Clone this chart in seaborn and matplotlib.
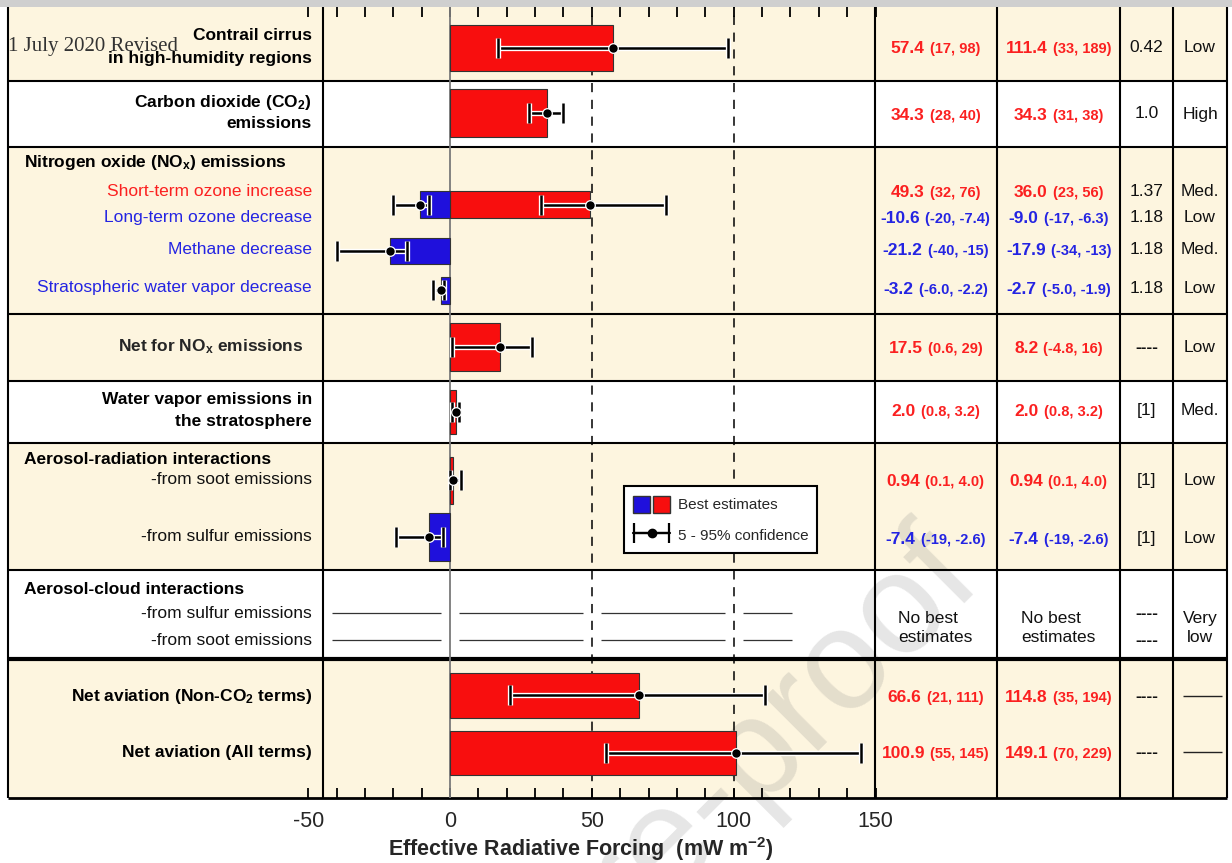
"""
Aviation effective radiative forcing terms - bar chart with side table
"""

import matplotlib
matplotlib.use("Agg")
import matplotlib.pyplot as plt
import matplotlib.patheffects as pe
from matplotlib.patches import Rectangle, Patch
from matplotlib.legend_handler import HandlerTuple, HandlerErrorbar
from matplotlib.ticker import MultipleLocator
import numpy as np
import seaborn as sns

# ---------------- data ----------------
terms = ["Contrail cirrus", "Carbon dioxide", "Short-term ozone increase",
         "Long-term ozone decrease", "Methane decrease",
         "Stratospheric water vapor decrease", "Net for NOx emissions",
         "Water vapor emissions", "Soot (aerosol-radiation)",
         "Sulfur (aerosol-radiation)", "Net aviation (Non-CO2)",
         "Net aviation (All terms)"]

erf_best = [57.4, 34.3, 49.3, -10.6, -21.2, -3.2, 17.5, 2.0, 0.94, -7.4, 66.6, 100.9]
erf_low = [17, 28, 32, -20, -40, -6.0, 0.6, 0.8, 0.1, -19, 21, 55]
erf_high = [98, 40, 76, -7.4, -15, -2.2, 29, 3.2, 4.0, -2.6, 111, 145]

erf_text = ["57.4", "34.3", "49.3", "-10.6", "-21.2", "-3.2", "17.5", "2.0",
            "0.94", "-7.4", "66.6", "100.9"]
erf_ci_text = ["(17, 98)", "(28, 40)", "(32, 76)", "(-20, -7.4)", "(-40, -15)",
               "(-6.0, -2.2)", "(0.6, 29)", "(0.8, 3.2)", "(0.1, 4.0)",
               "(-19, -2.6)", "(21, 111)", "(55, 145)"]
rf_text = ["111.4", "34.3", "36.0", "-9.0", "-17.9", "-2.7", "8.2", "2.0",
           "0.94", "-7.4", "114.8", "149.1"]
rf_ci_text = ["(33, 189)", "(31, 38)", "(23, 56)", "(-17, -6.3)", "(-34, -13)",
              "(-5.0, -1.9)", "(-4.8, 16)", "(0.8, 3.2)", "(0.1, 4.0)",
              "(-19, -2.6)", "(35, 194)", "(70, 229)"]
ratio_text = ["0.42", "1.0", "1.37", "1.18", "1.18", "1.18", "----", "[1]",
              "[1]", "[1]", "----", "----"]
conf_text = ["Low", "High", "Med.", "Low", "Med.", "Low", "Low", "Med.",
             "Low", "Low", "", ""]

# aerosol-cloud rows have no best estimate, only a range line
cloud_span = (-41.5, 120.5)

# ---------------- layout (pixels) ----------------
W, H = 1232, 863
bar_y = [48, 113, 205, 205, 251, 290, 347, 412, 480, 537, 695, 753]
bar_h = [46, 48, 27, 27, 26, 27, 48, 44, 47, 48, 45, 44]
text_y = [47, 114, 191, 217, 249, 288, 347, 410, 480, 538, 696, 752]

RED = "#f80e0e"
BLUE = "#1f10dc"
RED_TXT = "#fb2020"
BLUE_TXT = "#2424e2"
CREAM = "#fdf5df"

FRAME_L, FRAME_R, FRAME_T, FRAME_B = 8, 1227, 7, 798
COLS = [8, 323, 875, 997, 1120, 1173, 1227]


def setup_style():
    """Theme and fonts."""
    sns.set_theme(style="white")
    plt.rcParams["font.family"] = ["Liberation Sans", "DejaVu Sans"]
    plt.rcParams["mathtext.fontset"] = "custom"
    plt.rcParams["mathtext.rm"] = "Liberation Sans"
    plt.rcParams["mathtext.bf"] = "Liberation Sans:bold"
    plt.rcParams["mathtext.default"] = "regular"
    plt.rcParams["axes.unicode_minus"] = False


def pair_text(fig, bg, xc, y, main, sub, color):
    """Bold value followed by a smaller interval, centred on xc."""
    t1 = bg.text(0, y, main, fontsize=12.5, fontweight="bold", color=color,
                 ha="left", va="baseline", zorder=3)
    t2 = bg.text(0, y, sub, fontsize=10.5, fontweight="bold", color=color,
                 ha="left", va="baseline", zorder=3)
    r = fig.canvas.get_renderer()
    w1 = t1.get_window_extent(r).width
    w2 = t2.get_window_extent(r).width
    gap = 5
    x0 = xc - (w1 + gap + w2) / 2
    t1.set_x(x0)
    t2.set_x(x0 + w1 + gap)


def draw_table(fig, bg):
    """Row bands, grid lines, labels and the numeric columns."""
    bg.add_patch(Rectangle((0, 0), W, FRAME_T, facecolor="#cfcfcf", lw=0))
    bands = [(FRAME_T, 81, CREAM), (81, 147, "white"), (147, 314, CREAM),
             (314, 381, CREAM), (381, 443, "white"), (443, 570, CREAM),
             (570, 659, "white"), (659, FRAME_B, CREAM)]
    for y0, y1, c in bands:
        bg.add_patch(Rectangle((FRAME_L, y0), FRAME_R - FRAME_L, y1 - y0,
                               facecolor=c, lw=0, zorder=1))

    bg.hlines([81, 147, 314, 381, 443, 570], FRAME_L, FRAME_R, color="black", lw=1.5, zorder=2)
    bg.hlines(659, FRAME_L, FRAME_R, color="black", lw=3, zorder=2)
    bg.hlines(FRAME_B, FRAME_L, FRAME_R, color="black", lw=2, zorder=2)
    bg.vlines(COLS, FRAME_T, FRAME_B, color="black", lw=1.5, zorder=2)

    # watermark
    bg.text(985, 585, "Journal Pre-proof", rotation=45, rotation_mode="anchor",
            ha="right", va="baseline", fontsize=102, color="#808080", alpha=0.2,
            zorder=1.5)

    # row labels
    lab = dict(fontsize=12.5, va="center", zorder=3)
    bold_right = [("Contrail cirrus", 36), ("in high-humidity regions", 58),
                  ("Carbon dioxide (CO$_2$)", 102), ("emissions", 124),
                  ("Water vapor emissions in", 399), ("the stratosphere", 421),
                  ("Net aviation (Non-CO$_2$ terms)", 696),
                  ("Net aviation (All terms)", 752)]
    for s, y in bold_right:
        bg.text(312, y, s, ha="right", fontweight="bold", color="black", **lab)
    bg.text(303, 347, "Net for NO$_x$ emissions", ha="right", fontweight="bold", **lab)
    for s, y in [("Nitrogen oxide (NO$_x$) emissions", 163),
                 ("Aerosol-radiation interactions", 459),
                 ("Aerosol-cloud interactions", 589)]:
        bg.text(24, y, s, ha="left", fontweight="bold", color="black", **lab)
    bg.text(312, 191, "Short-term ozone increase", ha="right", color=RED_TXT, **lab)
    for s, y in [("Long-term ozone decrease", 217), ("Methane decrease", 249),
                 ("Stratospheric water vapor decrease", 287)]:
        bg.text(312, y, s, ha="right", color=BLUE_TXT, **lab)
    for s, y in [("-from soot emissions", 479), ("-from sulfur emissions", 536),
                 ("-from sulfur emissions", 613), ("-from soot emissions", 640)]:
        bg.text(312, y, s, ha="right", color="#111111", **lab)

    bg.text(8, 47, "1 July 2020 Revised", family="Liberation Serif", fontsize=15,
            color="#333333", ha="left", va="center", zorder=3)

    # numeric columns
    c1, c2, c3, c4 = 935.5, 1058.5, 1146.5, 1200
    for i in range(len(erf_text)):
        y = text_y[i] + 6
        col = BLUE_TXT if erf_text[i].startswith("-") else RED_TXT
        pair_text(fig, bg, c1, y, erf_text[i], erf_ci_text[i], col)
        col = BLUE_TXT if rf_text[i].startswith("-") else RED_TXT
        pair_text(fig, bg, c2, y, rf_text[i], rf_ci_text[i], col)
        wt = "bold" if ratio_text[i] == "----" else "normal"
        bg.text(c3, text_y[i], ratio_text[i], fontsize=12.5, fontweight=wt,
                ha="center", va="center", color="#111111", zorder=3)
        if conf_text[i]:
            bg.text(c4, text_y[i], conf_text[i], fontsize=12.5, ha="center",
                    va="center", color="#111111", zorder=3)
        else:
            bg.hlines(text_y[i], 1183, 1222, color="#222222", lw=1, zorder=3)

    # aerosol-cloud row
    for xc in (c1, c2):
        bg.text(xc, 628, "No best\nestimates", fontsize=12.5, ha="center",
                va="center", multialignment="left", linespacing=1.3,
                color="#111111", zorder=3)
    for y in (613, 640):
        bg.text(c3, y, "----", fontsize=12.5, fontweight="bold", ha="center",
                va="center", color="#111111", zorder=3)
    bg.text(c4, 628, "Very\nlow", fontsize=12.5, ha="center", va="center",
            linespacing=1.3, color="#111111", zorder=3)


def draw_bars(ax):
    """Bars, confidence ranges and the legend."""
    best = np.array(erf_best)
    lo = np.array(erf_low)
    hi = np.array(erf_high)

    ax.axvline(0, color="#7a7a7a", lw=1.3, zorder=1)
    for x in (50, 100):
        ax.axvline(x, color="black", lw=1.1, ls=(0, (6, 5)), zorder=1)

    colors = [RED if v > 0 else BLUE for v in best]
    ax.barh(bar_y, best, height=bar_h, color=colors, edgecolor="#333333",
            linewidth=0.8, zorder=2)

    halo = [pe.Stroke(linewidth=3.8, foreground="white"), pe.Normal()]
    eb = ax.errorbar(best, bar_y, xerr=[best - lo, hi - best], fmt="none",
                     ecolor="black", elinewidth=1.8, capsize=7.5, capthick=1.8,
                     zorder=3)
    for art in list(eb.lines[1]) + list(eb.lines[2]):
        art.set_path_effects(halo)

    sns.scatterplot(x=best, y=bar_y, ax=ax, color="black", s=48,
                    edgecolor="white", linewidth=0.9, zorder=4, legend=False)

    # aerosol-cloud interactions: range lines broken at the grid lines
    gap = 3.2
    starts = [cloud_span[0], 0 + gap, 50 + gap, 100 + gap]
    ends = [0 - gap, 50 - gap, 100 - gap, cloud_span[1]]
    for y in (613, 640):
        ax.hlines([y] * 4, starts, ends, color="#333333", lw=0.9, zorder=2)

    # legend
    eb_leg = ax.errorbar([np.nan], [np.nan], xerr=[[0], [0]], fmt="o-", color="black",
                         ms=6, lw=1.6, elinewidth=1.6, capsize=7, capthick=1.6)
    bars_leg = (Patch(facecolor=BLUE, edgecolor="#333333"),
                Patch(facecolor=RED, edgecolor="#333333"))
    leg = ax.legend([bars_leg, eb_leg], ["Best estimates", "5 - 95% confidence"],
                    handler_map={tuple: HandlerTuple(ndivide=None, pad=0.2),
                                 type(eb_leg): HandlerErrorbar(xerr_size=1.15,
                                                               marker_pad=0)},
                    loc="upper left", bbox_to_anchor=(0.557, 0.394),
                    borderaxespad=0, fontsize=11, frameon=True, fancybox=False,
                    edgecolor="black", framealpha=1, handlelength=2.4,
                    handleheight=1.4, handletextpad=0.5, borderpad=0.6,
                    labelspacing=0.85)
    leg.get_frame().set_linewidth(1.5)

    ax.set_xlim(-50, 150)
    ax.set_ylim(FRAME_B, FRAME_T)
    ax.set_xticks([-50, 0, 50, 100, 150])
    ax.xaxis.set_minor_locator(MultipleLocator(10))
    ax.set_yticks([])
    ax.tick_params(axis="x", which="both", direction="in", top=True, bottom=True,
                   length=7, width=1.3, color="black", labelsize=15.5, pad=9)
    for s in ax.spines.values():
        s.set_visible(False)
    ax.set_ylabel("")
    ax.set_xlabel("Effective Radiative Forcing  (mW m$^{-2}$)", fontsize=15.5,
                  fontweight="bold")
    ax.xaxis.set_label_coords(0.481, -0.047)


if __name__ == "__main__":
    setup_style()

    fig = plt.figure(figsize=(W / 100, H / 100), dpi=100)
    fig.patch.set_facecolor("white")

    bg = fig.add_axes([0, 0, 1, 1], zorder=0)
    bg.set_xlim(0, W)
    bg.set_ylim(H, 0)
    bg.axis("off")

    x0, x1 = 308.2, 875.5
    ax = fig.add_axes([x0 / W, 1 - FRAME_B / H, (x1 - x0) / W, (FRAME_B - FRAME_T) / H],
                      zorder=1)
    ax.patch.set_alpha(0)

    draw_table(fig, bg)
    draw_bars(ax)

    fig.savefig("out.png", dpi=100)
    plt.close(fig)
